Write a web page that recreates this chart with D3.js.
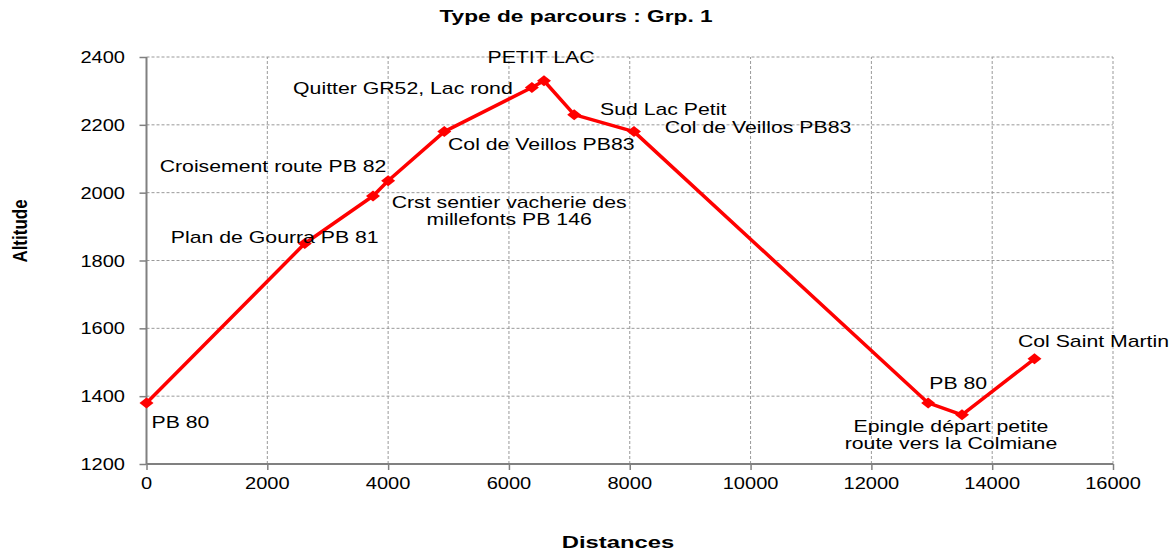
<!DOCTYPE html>
<html>
<head>
<meta charset="utf-8">
<script src="https://cdn.jsdelivr.net/npm/d3@7"></script>
<style>
  html, body { margin: 0; padding: 0; background: #fff; }
  svg { display: block; font-family: "Liberation Sans", Arial, sans-serif; }
</style>
</head>
<body>
<div id="chart"></div>
<script>
// ---- data ----
const distances = [0, 2620, 3750, 4000, 4930, 6380, 6580, 7080, 8070, 12940, 13500, 14700];
const altitudes = [1380, 1850, 1990, 2035, 2180, 2310, 2330, 2230, 2180, 1380, 1345, 1510];
const pointLabels = [
  ["PB 80"],
  ["Plan de Gourra PB 81"],
  ["Croisement route PB 82"],
  ["Crst sentier vacherie des", "millefonts PB 146"],
  ["Col de Veillos PB83"],
  ["Quitter GR52, Lac rond"],
  ["PETIT LAC"],
  ["Sud Lac Petit"],
  ["Col de Veillos PB83"],
  ["PB 80"],
  ["Epingle départ petite", "route vers la Colmiane"],
  ["Col Saint Martin"]
];
const xTicks = [0, 2000, 4000, 6000, 8000, 10000, 12000, 14000, 16000];
const yTicks = [1200, 1400, 1600, 1800, 2000, 2200, 2400];
const chartTitle = "Type de parcours : Grp. 1";
const xTitle = "Distances";
const yTitle = "Altitude";

// ---- layout (label offsets from their point, in px) ----
const labelOffsets = [
  [34, 25], [-30, -1], [-100, -24], [121, 27], [97, 18], [-129, 6.5],
  [-3, -18], [89, 0], [124, 1.5], [30, -14], [-11, 17], [59, -12]
];

const W = 1176, H = 552;
const SX = 1.25; // horizontal stretch of the original picture's text
const svg = d3.select("#chart").append("svg").attr("width", W).attr("height", H);

const x = d3.scaleLinear().domain([0, 16000]).range([146.5, 1113]);
const y = d3.scaleLinear().domain([1200, 2400]).range([464, 57]);

function stretchedText(g, tx, ty, lines, opts) {
  const t = g.append("text")
    .attr("transform", `translate(${tx},${ty}) scale(${opts.sx || SX},1)`)
    .attr("text-anchor", opts.anchor || "middle")
    .attr("font-size", opts.size)
    .attr("font-weight", opts.weight || "normal")
    .attr("fill", "#000");
  lines.forEach((l, i) => {
    t.append("tspan").attr("x", 0).attr("dy", i === 0 ? 0 : opts.lh).text(l);
  });
  return t;
}

// grid
const grid = svg.append("g");
grid.selectAll("line.h").data(yTicks.slice(1)).join("line")
  .attr("x1", x(0)).attr("x2", x(16000))
  .attr("y1", d => y(d)).attr("y2", d => y(d))
  .attr("stroke", "#999").attr("stroke-width", 1).attr("stroke-dasharray", "3,2");
grid.selectAll("line.v").data(xTicks.slice(1)).join("line")
  .attr("x1", d => x(d)).attr("x2", d => x(d))
  .attr("y1", y(1200)).attr("y2", y(2400))
  .attr("stroke", "#999").attr("stroke-width", 1).attr("stroke-dasharray", "3,2");

// axes
const yAxis = d3.axisLeft(y).tickValues(yTicks).tickSize(7).tickFormat("");
const xAxis = d3.axisBottom(x).tickValues(xTicks).tickSize(6).tickFormat("");
const gy = svg.append("g").attr("transform", `translate(${x(0)},0)`).call(yAxis);
const gx = svg.append("g").attr("transform", `translate(0,${y(1200)})`).call(xAxis);
[gy, gx].forEach(g => {
  g.select(".domain").attr("stroke", "#808080").attr("stroke-width", 2);
  g.selectAll(".tick line").attr("stroke", "#808080").attr("stroke-width", 1.5);
});
gx.select(".domain").attr("d", `M${x(0)},0H${x(16000)}`);
gy.select(".domain").attr("d", `M0,${y(1200)}V${y(2400)}`);

// tick labels
const tl = svg.append("g");
yTicks.forEach(v => stretchedText(tl, 125, y(v) + 6, [String(v)], {size: 17, anchor: "end", sx: 1.18}));
xTicks.forEach(v => stretchedText(tl, x(v), 489, [String(v)], {size: 17, sx: 1.18}));

// line + markers
const pts = distances.map((d, i) => [d, altitudes[i]]);
svg.append("path")
  .attr("d", d3.line().x(d => x(d[0])).y(d => y(d[1]))(pts))
  .attr("fill", "none").attr("stroke", "#ff0000").attr("stroke-width", 3.5)
  .attr("stroke-linejoin", "round");
svg.append("g").selectAll("path").data(pts).join("path")
  .attr("transform", d => `translate(${x(d[0])},${y(d[1])})`)
  .attr("d", "M-7,0L0,-5.5L7,0L0,5.5Z")
  .attr("fill", "#ff0000");

// point labels
const lg = svg.append("g");
pts.forEach((p, i) => {
  stretchedText(lg, x(p[0]) + labelOffsets[i][0], y(p[1]) + labelOffsets[i][1],
    pointLabels[i], {size: 17, lh: 17.5});
});

// titles
stretchedText(svg, 576, 22, [chartTitle], {size: 16, weight: "bold", sx: 1.42});
stretchedText(svg, 618, 548, [xTitle], {size: 17, weight: "bold", sx: 1.4});
svg.append("text")
  .attr("transform", "translate(27,231) rotate(-90) scale(1,1.2)")
  .attr("text-anchor", "middle")
  .attr("font-size", 17).attr("font-weight", "bold")
  .text(yTitle);
</script>
</body>
</html>
